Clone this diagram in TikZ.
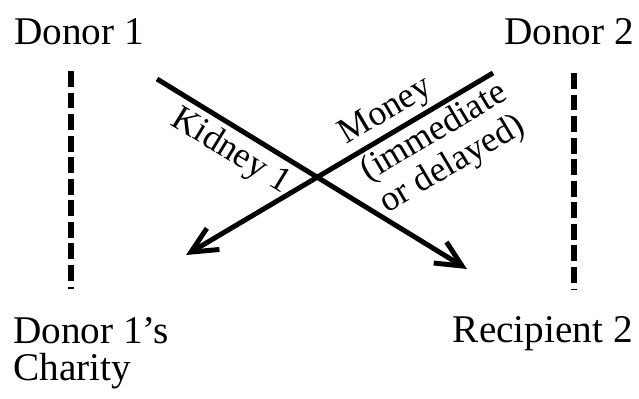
\documentclass[tikz,border=0pt]{standalone}
\usepackage{fontspec}
\setmainfont{Liberation Serif}
\usetikzlibrary{arrows.meta}

\begin{document}
\begin{tikzpicture}[x=0.03cm, y=-0.03cm, >={Straight Barb[length=22pt,width=21pt]},
	party/.style={inner sep=0pt, align=left, font=\fontsize{33.5}{32.3}\selectfont},
	tag/.style={inner sep=2.5pt, align=left, font=\fontsize{30.5}{31.5}\selectfont},
	flow/.style={->, line width=4.25pt},
	divider/.style={line width=5pt, dash pattern=on 13.6pt off 4.8pt}]

		\useasboundingbox (0,0) rectangle (639,399);

		\node[party, anchor=base west] (d1) at (14,45) {Donor 1};
		\node[party, anchor=base east] (d2) at (634,45) {Donor 2};
		\node[party, anchor=base west] (ch) at (13,381) {Donor 1's\\Charity};
		\node[party, anchor=base east] (r2) at (633,343) {Recipient 2};

		\coordinate (kidFrom) at (157,79);
		\coordinate (kidTo) at (467,269);
		\coordinate (monFrom) at (493,73);
		\coordinate (monTo) at (186,255);
		\coordinate (leftTop) at (71,71);
		\coordinate (leftBot) at (71,289);
		\coordinate (rightTop) at (574,73);
		\coordinate (rightBot) at (574,290);

		\draw[divider] (leftTop) -- (leftBot);
		\draw[divider] (rightTop) -- (rightBot);

		\draw[flow] (kidFrom) -- (kidTo)
			node[tag, inner sep=4pt, pos=0.277, sloped, below] (kid) {Kidney 1};
		\draw[flow, <-] (monTo) -- (monFrom)
			node[tag, pos=0.53, sloped, anchor=south west] (mon) {Money}
			node[tag, pos=0.53, sloped, anchor=north west] (when) {(immediate\\or delayed)};

\end{tikzpicture}
\end{document}
